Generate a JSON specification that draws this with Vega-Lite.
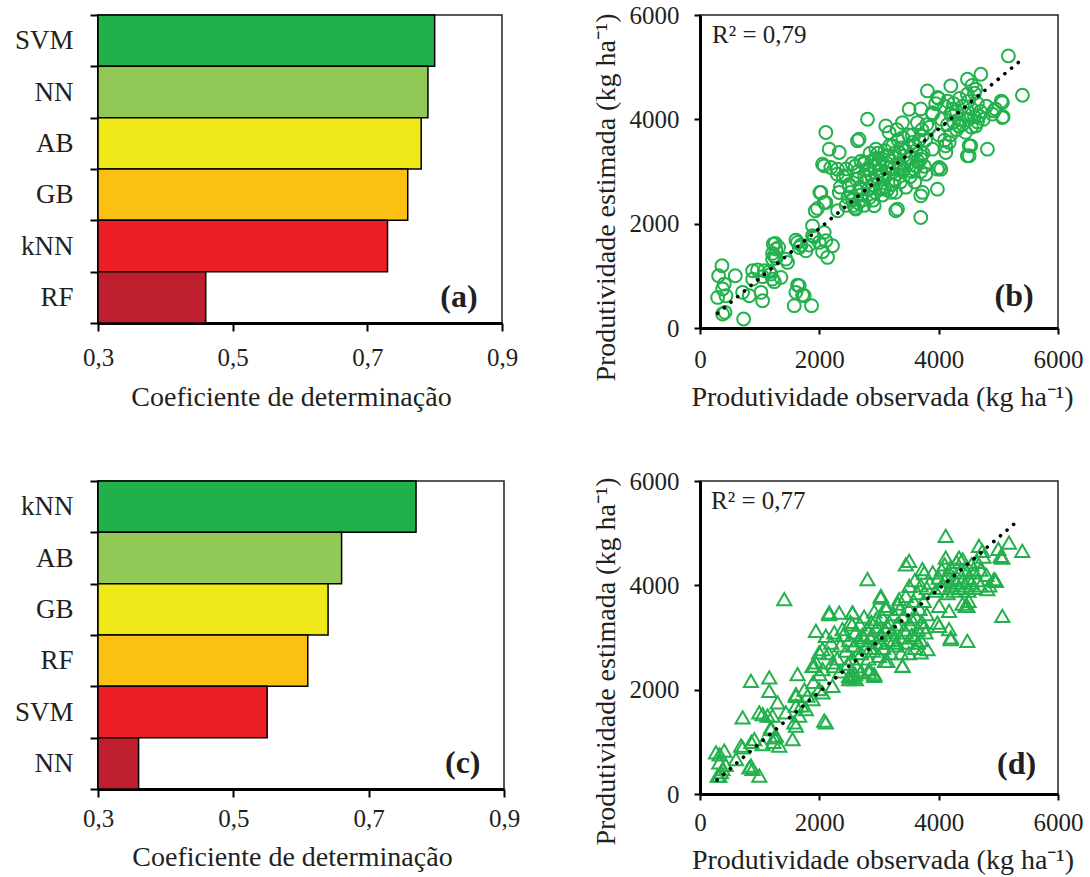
{
  "$schema": "https://vega.github.io/schema/vega-lite/v6.json",
  "background": "white",
  "padding": {"left": 13, "top": 0, "right": 5, "bottom": 5},
  "config": {
    "font": "Liberation Serif",
    "view": {"stroke": "#231f20", "strokeWidth": 1.5},
    "axis": {
      "domainColor": "black", "domainWidth": 3, "tickColor": "black", "tickWidth": 2,
      "labelColor": "#231f20", "titleColor": "#231f20",
      "labelFont": "Liberation Serif", "titleFont": "Liberation Serif",
      "titleFontWeight": "normal", "grid": false, "labelFontSize": 25, "titleFontSize": 28,
      "labelFlush": false, "labelOverlap": false, "zindex": 1
    }
  },
  "datasets": {
    "bars_a": [
      {"model": "SVM", "r2": 0.80, "rank": 1},
      {"model": "NN", "r2": 0.79, "rank": 2},
      {"model": "AB", "r2": 0.78, "rank": 3},
      {"model": "GB", "r2": 0.76, "rank": 4},
      {"model": "kNN", "r2": 0.73, "rank": 5},
      {"model": "RF", "r2": 0.46, "rank": 6}
    ],
    "bars_c": [
      {"model": "kNN", "r2": 0.77, "rank": 1},
      {"model": "AB", "r2": 0.66, "rank": 2},
      {"model": "GB", "r2": 0.64, "rank": 3},
      {"model": "RF", "r2": 0.61, "rank": 4},
      {"model": "SVM", "r2": 0.55, "rank": 5},
      {"model": "NN", "r2": 0.36, "rank": 6}
    ],
    "trend_b": [{"obs": 295, "est": 281}, {"obs": 5397, "est": 5150}],
    "trend_d": [{"obs": 285, "est": 268}, {"obs": 5323, "est": 5234}],
    "obs_b": [
      {"obs":368,"est":1193},{"obs":312,"est":1002},{"obs":591,"est":1002},{"obs":407,"est":842},{"obs":379,"est":747},{"obs":296,"est":587},{"obs":435,"est":619},{"obs":379,"est":268},{"obs":419,"est":300},{"obs":731,"est":172},{"obs":714,"est":683},{"obs":826,"est":619},{"obs":882,"est":1098},{"obs":882,"est":938},{"obs":965,"est":1111},{"obs":1022,"est":683},{"obs":1049,"est":523},{"obs":1049,"est":984},{"obs":1077,"est":1098},{"obs":1161,"est":1080},{"obs":1188,"est":1034},{"obs":1216,"est":938},{"obs":1245,"est":888},{"obs":1356,"est":970},{"obs":1228,"est":1608},{"obs":1261,"est":1622},{"obs":1272,"est":1512},{"obs":1317,"est":1544},{"obs":1244,"est":1385},{"obs":1216,"est":1431},{"obs":1273,"est":1335},{"obs":1216,"est":1321},{"obs":1439,"est":1321},{"obs":1467,"est":1257},{"obs":1608,"est":1685},{"obs":1635,"est":1640},{"obs":1663,"est":1544},{"obs":1692,"est":1589},{"obs":1775,"est":1480},{"obs":1831,"est":1589},{"obs":1886,"est":1768},{"obs":1915,"est":1750},{"obs":1997,"est":1640},{"obs":2081,"est":1832},{"obs":2109,"est":1672},{"obs":2221,"est":1576},{"obs":2137,"est":1353},{"obs":2054,"est":1463},{"obs":1663,"est":811},{"obs":1635,"est":823},{"obs":1607,"est":683},{"obs":1747,"est":619},{"obs":1719,"est":632},{"obs":1579,"est":428},{"obs":1870,"est":428},{"obs":1886,"est":1959},{"obs":1970,"est":2292},
      {"obs":1931,"est":2247},{"obs":2009,"est":2598},{"obs":2109,"est":2406},{"obs":2109,"est":3747},{"obs":2165,"est":3428},{"obs":2081,"est":3109},{"obs":2193,"est":3077},{"obs":2333,"est":3364},{"obs":2305,"est":3045},{"obs":2333,"est":2598},{"obs":2305,"est":2247},{"obs":2667,"est":3619},{"obs":2807,"est":4002},{"obs":2444,"est":2917},{"obs":2500,"est":2726},{"obs":2556,"est":2470},{"obs":2611,"est":2279},{"obs":2695,"est":2662},{"obs":2751,"est":3172},{"obs":2835,"est":3045},{"obs":2891,"est":2853},{"obs":2919,"est":3236},{"obs":2947,"est":3428},{"obs":3030,"est":3013},{"obs":3058,"est":2662},{"obs":2919,"est":2343},{"obs":3281,"est":2247},{"obs":3114,"est":3874},{"obs":3170,"est":3747},{"obs":3226,"est":3492},{"obs":3337,"est":3364},{"obs":3393,"est":3938},{"obs":3421,"est":3045},{"obs":3505,"est":4193},{"obs":3560,"est":3556},{"obs":3616,"est":3109},{"obs":3700,"est":3236},{"obs":3700,"est":2534},{"obs":3700,"est":2119},{"obs":3784,"est":2949},{"obs":3812,"est":4545},{"obs":3979,"est":3045},{"obs":3979,"est":2662},{"obs":3895,"est":3428},{"obs":2054,"est":3141},{"obs":2027,"est":2599},{"obs":2082,"est":2407},{"obs":2640,"est":3589},{"obs":4037,"est":3045},{"obs":3310,"est":2279},{"obs":3729,"est":2599},
      {"obs":2400,"est":2900},{"obs":2450,"est":3050},{"obs":2500,"est":2750},{"obs":2520,"est":2600},{"obs":2560,"est":2450},{"obs":2580,"est":2350},{"obs":2600,"est":2300},{"obs":2620,"est":2850},{"obs":2650,"est":3000},{"obs":2680,"est":2700},{"obs":2700,"est":2550},{"obs":2720,"est":2450},{"obs":2750,"est":3150},{"obs":2760,"est":2900},{"obs":2780,"est":2800},{"obs":2800,"est":3050},{"obs":2820,"est":2650},{"obs":2840,"est":2500},{"obs":2860,"est":2950},{"obs":2880,"est":3200},{"obs":2900,"est":2750},{"obs":2920,"est":3100},{"obs":2940,"est":2600},{"obs":2960,"est":2900},{"obs":2980,"est":3350},{"obs":3000,"est":3000},{"obs":3020,"est":2700},{"obs":3040,"est":3250},{"obs":3060,"est":2550},{"obs":3080,"est":2850},{"obs":3100,"est":3400},{"obs":3120,"est":3100},{"obs":3140,"est":2650},{"obs":3160,"est":2950},{"obs":3180,"est":3500},{"obs":3200,"est":3200},{"obs":3220,"est":2750},{"obs":3240,"est":3050},{"obs":3260,"est":3350},{"obs":3280,"est":2600},{"obs":3300,"est":2950},{"obs":3320,"est":3600},{"obs":3340,"est":3150},{"obs":3360,"est":2800},{"obs":3380,"est":3450},{"obs":3400,"est":3000},{"obs":3420,"est":3300},{"obs":3450,"est":2700},{"obs":3480,"est":3150},{"obs":3500,"est":3500},{"obs":3520,"est":2900},{"obs":3540,"est":3250},{"obs":3560,"est":3700},{"obs":3580,"est":3050},{"obs":3600,"est":2800},{"obs":3620,"est":3400},{"obs":3650,"est":3200},{"obs":3670,"est":3600},{"obs":3700,"est":3000},{"obs":3720,"est":3800},{"obs":3740,"est":3350},{"obs":3760,"est":3100},{"obs":3780,"est":3600},{"obs":3800,"est":3900},{"obs":2550,"est":3150},{"obs":2650,"est":2400},{"obs":2850,"est":3350},{"obs":2950,"est":3250},{"obs":3050,"est":2950},{"obs":3150,"est":3300},{"obs":3250,"est":2850},{"obs":3350,"est":3100},{"obs":3450,"est":3400},{"obs":3550,"est":3000},{"obs":2480,"est":2500},{"obs":2700,"est":3200},{"obs":2900,"est":2450},{"obs":3100,"est":2700},{"obs":3300,"est":3800},{"obs":3500,"est":3700},{"obs":2300,"est":2950},{"obs":2350,"est":2700},{"obs":2600,"est":3100},{"obs":2750,"est":2350},{"obs":3000,"est":3150},{"obs":3200,"est":2600},{"obs":3400,"est":3650},{"obs":3600,"est":3500},{"obs":3700,"est":3300},{"obs":2450,"est":2350},
      {"obs":3850,"est":3850},{"obs":3900,"est":4100},{"obs":3950,"est":4300},{"obs":4000,"est":3700},{"obs":4000,"est":4400},{"obs":4050,"est":4000},{"obs":4100,"est":4250},{"obs":4100,"est":3600},{"obs":4150,"est":4350},{"obs":4150,"est":3900},{"obs":4200,"est":4100},{"obs":4200,"est":3700},{"obs":4250,"est":4300},{"obs":4250,"est":3950},{"obs":4300,"est":4150},{"obs":4300,"est":3800},{"obs":4350,"est":4400},{"obs":4350,"est":4000},{"obs":4400,"est":3900},{"obs":4400,"est":4250},{"obs":4450,"est":4100},{"obs":4450,"est":3750},{"obs":4500,"est":4350},{"obs":4500,"est":4000},{"obs":4550,"est":4200},{"obs":4550,"est":3850},{"obs":4600,"est":4500},{"obs":4600,"est":4050},{"obs":4650,"est":4300},{"obs":4650,"est":3950},{"obs":4700,"est":4150},{"obs":4750,"est":4000},{"obs":4800,"est":4250},{"obs":4900,"est":4100},{"obs":4950,"est":4200},{"obs":5050,"est":4350},{"obs":5080,"est":4050},{"obs":5169,"est":5216},{"obs":5404,"est":4462},{"obs":4707,"est":4864},{"obs":4482,"est":4768},{"obs":4204,"est":4642},{"obs":4511,"est":3301},{"obs":4511,"est":3493},{"obs":4817,"est":3428},{"obs":4008,"est":3077},{"obs":4120,"est":3365},{"obs":4176,"est":3556},{"obs":3700,"est":4200},{"obs":3644,"est":3938},{"obs":3728,"est":3683},{"obs":3895,"est":4130},{"obs":4560,"est":4650},{"obs":4620,"est":4580},{"obs":4480,"est":4480},{"obs":3980,"est":4420},{"obs":5067,"est":4321},{"obs":5067,"est":4034},{"obs":4927,"est":4162},{"obs":4537,"est":3492},{"obs":4481,"est":3300},{"obs":4118,"est":3492},{"obs":4341,"est":3874},{"obs":4620,"est":3874},{"obs":4230,"est":4193},{"obs":4676,"est":4066}
    ],
    "obs_d": [
      {"obs":268,"est":798},{"obs":407,"est":830},{"obs":324,"est":606},{"obs":379,"est":479},{"obs":296,"est":351},{"obs":350,"est":420},{"obs":430,"est":560},{"obs":603,"est":670},{"obs":714,"est":894},{"obs":714,"est":1468},{"obs":854,"est":2170},{"obs":854,"est":543},{"obs":880,"est":480},{"obs":993,"est":351},{"obs":910,"est":1053},{"obs":860,"est":1000},{"obs":1049,"est":957},{"obs":1049,"est":1532},{"obs":1161,"est":2234},{"obs":1161,"est":1979},{"obs":1216,"est":1500},{"obs":1188,"est":1245},{"obs":1272,"est":1117},{"obs":1230,"est":1000},{"obs":1328,"est":926},{"obs":1300,"est":1755},{"obs":1412,"est":3734},{"obs":1439,"est":1564},{"obs":1551,"est":1053},{"obs":1607,"est":1309},{"obs":1635,"est":2298},{"obs":1607,"est":1883},{"obs":1663,"est":1500},{"obs":1775,"est":1628},{"obs":1886,"est":1819},{"obs":1886,"est":2457},{"obs":1997,"est":2713},{"obs":2053,"est":1947},{"obs":2109,"est":1372},{"obs":2109,"est":3032},{"obs":2165,"est":3447},{"obs":2221,"est":2521},{"obs":2221,"est":2074},{"obs":2333,"est":3479},{"obs":2388,"est":3160},{"obs":2500,"est":2266},{"obs":2556,"est":3479},{"obs":2611,"est":2202},{"obs":2807,"est":4117},{"obs":2835,"est":2330},{"obs":2919,"est":2266},{"obs":3030,"est":3766},{"obs":3142,"est":2553},{"obs":3393,"est":2457},{"obs":3505,"est":4468},{"obs":3700,"est":2713},{"obs":3979,"est":3287},{"obs":4007,"est":3606},{"obs":4174,"est":3511},{"obs":4174,"est":3160},{"obs":4202,"est":2968},{"obs":4481,"est":2936},{"obs":4453,"est":3606},{"obs":4118,"est":4947},{"obs":5067,"est":3415},{"obs":5401,"est":4660},{"obs":5178,"est":4819},{"obs":5067,"est":4532},{"obs":4927,"est":4117},{"obs":4816,"est":3926},{"obs":4676,"est":4755},{"obs":4732,"est":4660},{"obs":4341,"est":4532},{"obs":4118,"est":4532},{"obs":3728,"est":4309},{"obs":5042,"est":4565},{"obs":4958,"est":4087},{"obs":4482,"est":3608},
      {"obs":1132,"est":1501},{"obs":1608,"est":1915},{"obs":1189,"est":1277},{"obs":1245,"est":1086},{"obs":687,"est":927},{"obs":826,"est":511},{"obs":1580,"est":1373},{"obs":1608,"est":1693},{"obs":1802,"est":1884},{"obs":1998,"est":2011},{"obs":2082,"est":1406},{"obs":1914,"est":2459},{"obs":1700,"est":1700},{"obs":1750,"est":2000},{"obs":1900,"est":2150},{"obs":2000,"est":2300},{"obs":993,"est":1565},{"obs":323,"est":352},{"obs":330,"est":760},
      {"obs":2150,"est":2700},{"obs":2200,"est":2900},{"obs":2250,"est":3100},{"obs":2300,"est":2600},{"obs":2350,"est":2850},{"obs":2400,"est":3050},{"obs":2250,"est":2450},{"obs":2350,"est":2350},{"obs":2166,"est":3480},{"obs":2556,"est":3480},{"obs":3032,"est":3799},{"obs":3115,"est":3608},{"obs":3338,"est":3735},{"obs":3506,"est":3991},{"obs":3757,"est":4245},{"obs":3450,"est":4404},{"obs":1943,"est":3129},{"obs":2054,"est":2777},{"obs":1943,"est":2522},{"obs":2054,"est":2394},{"obs":2556,"est":2235},{"obs":2920,"est":2298},{"obs":2836,"est":2394},{"obs":3394,"est":2459},{"obs":4008,"est":3225},{"obs":4204,"est":3001},{"obs":3812,"est":2777},{"obs":3600,"est":4100},{"obs":3700,"est":4000},{"obs":3800,"est":3950},{"obs":3650,"est":3850},
      {"obs":2450,"est":2750},{"obs":2480,"est":2500},{"obs":2500,"est":2950},{"obs":2520,"est":3300},{"obs":2550,"est":2600},{"obs":2580,"est":2850},{"obs":2600,"est":3100},{"obs":2620,"est":2450},{"obs":2650,"est":2950},{"obs":2680,"est":3250},{"obs":2700,"est":2700},{"obs":2720,"est":3050},{"obs":2750,"est":3400},{"obs":2780,"est":2800},{"obs":2800,"est":3150},{"obs":2820,"est":2600},{"obs":2850,"est":3000},{"obs":2870,"est":3300},{"obs":2900,"est":2750},{"obs":2920,"est":3500},{"obs":2950,"est":2900},{"obs":2970,"est":3200},{"obs":3000,"est":2650},{"obs":3020,"est":3050},{"obs":3050,"est":3400},{"obs":3070,"est":2800},{"obs":3100,"est":3150},{"obs":3120,"est":3550},{"obs":3150,"est":2950},{"obs":3170,"est":3300},{"obs":3200,"est":2700},{"obs":3220,"est":3100},{"obs":3250,"est":3450},{"obs":3270,"est":2850},{"obs":3300,"est":3250},{"obs":3320,"est":3650},{"obs":3350,"est":3000},{"obs":3370,"est":2700},{"obs":3400,"est":3400},{"obs":3420,"est":3150},{"obs":3450,"est":3800},{"obs":3470,"est":2900},{"obs":3500,"est":3550},{"obs":3520,"est":3250},{"obs":3550,"est":3050},{"obs":3580,"est":3700},{"obs":3600,"est":2800},{"obs":3620,"est":3400},{"obs":3650,"est":3150},{"obs":3680,"est":3550},{"obs":3700,"est":2950},{"obs":3720,"est":3300},{"obs":3750,"est":3700},{"obs":3780,"est":3100},{"obs":3800,"est":3450},{"obs":2550,"est":3250},{"obs":2650,"est":2700},{"obs":2750,"est":3000},{"obs":2850,"est":2800},{"obs":2950,"est":3350},{"obs":3050,"est":2900},{"obs":3150,"est":3200},{"obs":3250,"est":2950},{"obs":3350,"est":3550},{"obs":3450,"est":3100},{"obs":3550,"est":3350},{"obs":3650,"est":2900},{"obs":3750,"est":3200},{"obs":2900,"est":3050},{"obs":3100,"est":2550},{"obs":3300,"est":2900},{"obs":3500,"est":2700},{"obs":3600,"est":3000},{"obs":2600,"est":2300},{"obs":2700,"est":2350},{"obs":2500,"est":2200},
      {"obs":3850,"est":4050},{"obs":3900,"est":4250},{"obs":3950,"est":3900},{"obs":4000,"est":4150},{"obs":4050,"est":4300},{"obs":4050,"est":3950},{"obs":4100,"est":4100},{"obs":4100,"est":4400},{"obs":4150,"est":3850},{"obs":4150,"est":4200},{"obs":4200,"est":4000},{"obs":4200,"est":4350},{"obs":4250,"est":4150},{"obs":4250,"est":3900},{"obs":4300,"est":4450},{"obs":4300,"est":4050},{"obs":4350,"est":4250},{"obs":4350,"est":3950},{"obs":4400,"est":4100},{"obs":4400,"est":4500},{"obs":4450,"est":4000},{"obs":4450,"est":4300},{"obs":4500,"est":4150},{"obs":4500,"est":3900},{"obs":4550,"est":4400},{"obs":4550,"est":4050},{"obs":4600,"est":4250},{"obs":4600,"est":3950},{"obs":4650,"est":4100},{"obs":4650,"est":4450},{"obs":4700,"est":4300},{"obs":4700,"est":4000},{"obs":4750,"est":4550},{"obs":4800,"est":4200},{"obs":4850,"est":4000},{"obs":4950,"est":4100},{"obs":5000,"est":4700},{"obs":5050,"est":4550},{"obs":4500,"est":3700},{"obs":4400,"est":3650}
    ]
  },
  "columns": 2,
  "spacing": {"row": 153, "column": 196},
  "bounds": "flush",
  "concat": [
    {
      "width": 404, "height": 308,
      "layer": [
        {
          "data": {"name": "bars_a"},
          "mark": {"type": "bar", "stroke": "black", "strokeWidth": 1.5},
          "encoding": {
            "y": {"field": "model", "type": "nominal", "sort": ["SVM","NN","AB","GB","kNN","RF"],
              "scale": {"paddingInner": 0, "paddingOuter": 0},
              "axis": {"title": null, "tickBand": "extent", "tickSize": 8, "labelPadding": 17, "labelFontSize": 27}},
            "x": {"field": "r2", "type": "quantitative", "scale": {"domain": [0.3, 0.9], "zero": false, "nice": false},
              "axis": {"values": [0.3, 0.5, 0.7, 0.9], "labelExpr": "replace(format(datum.value, '.1f'), '.', ',')",
                "title": "Coeficiente de determinação", "tickSize": 8, "labelPadding": 34, "labelBaseline": "alphabetic",
                "titleX": 193, "titleY": 82, "titleBaseline": "alphabetic", "titleAlign": "center"}},
            "x2": {"datum": 0.3},
            "color": {"field": "rank", "type": "ordinal",
              "scale": {"domain": [1,2,3,4,5,6], "range": ["#21b14b","#92c856","#f0e919","#fbc112","#ec1f26","#be1e2d"]},
              "legend": null}
          }
        },
        {
          "data": {"values": [{}]},
          "mark": {"type": "text", "fontSize": 32, "fontWeight": "bold", "font": "Liberation Serif", "color": "#231f20", "baseline": "middle", "align": "center"},
          "encoding": {"x": {"datum": 0.836}, "y": {"datum": "RF"}, "text": {"value": "(a)"}}
        }
      ]
    },
    {
      "width": 358, "height": 313,
      "layer": [
        {
          "data": {"name": "obs_b"},
          "mark": {"type": "point", "shape": "circle", "filled": false, "stroke": "#22b14c", "strokeWidth": 2, "size": 165, "opacity": 1},
          "encoding": {
            "x": {"field": "obs", "type": "quantitative", "scale": {"domain": [0, 6000], "nice": false},
              "axis": {"values": [0,2000,4000,6000], "format": "d", "title": "Produtividade observada (kg ha⁻¹)",
                "tickSize": 6, "labelPadding": 33, "labelBaseline": "alphabetic",
                "titleX": 182, "titleY": 77, "titleBaseline": "alphabetic", "titleAlign": "center"}},
            "y": {"field": "est", "type": "quantitative", "scale": {"domain": [0, 6000], "nice": false},
              "axis": {"values": [0,2000,4000,6000], "format": "d", "title": "Produtividade estimada (kg ha⁻¹)",
                "tickSize": 6, "labelPadding": 15,
                "titleX": -86, "titleY": 182, "titleAngle": -90, "titleBaseline": "alphabetic", "titleAlign": "center"}}
          }
        },
        {
          "data": {"name": "trend_b"},
          "mark": {"type": "line", "color": "black", "strokeWidth": 3.6, "strokeDash": [0.1, 8.6], "strokeCap": "round"},
          "encoding": {"x": {"field": "obs", "type": "quantitative"}, "y": {"field": "est", "type": "quantitative"}}
        },
        {
          "data": {"values": [{}]},
          "mark": {"type": "text", "fontSize": 25, "font": "Liberation Serif", "color": "#231f20", "baseline": "middle", "align": "left"},
          "encoding": {"x": {"datum": 201}, "y": {"datum": 5609}, "text": {"value": "R² = 0,79"}}
        },
        {
          "data": {"values": [{}]},
          "mark": {"type": "text", "fontSize": 32, "fontWeight": "bold", "font": "Liberation Serif", "color": "#231f20", "baseline": "middle", "align": "center"},
          "encoding": {"x": {"datum": 5265}, "y": {"datum": 620}, "text": {"value": "(b)"}}
        }
      ]
    },
    {
      "width": 406, "height": 308,
      "layer": [
        {
          "data": {"name": "bars_c"},
          "mark": {"type": "bar", "stroke": "black", "strokeWidth": 1.5},
          "encoding": {
            "y": {"field": "model", "type": "nominal", "sort": ["kNN","AB","GB","RF","SVM","NN"],
              "scale": {"paddingInner": 0, "paddingOuter": 0},
              "axis": {"title": null, "tickBand": "extent", "tickSize": 8, "labelPadding": 17, "labelFontSize": 27}},
            "x": {"field": "r2", "type": "quantitative", "scale": {"domain": [0.3, 0.9], "zero": false, "nice": false},
              "axis": {"values": [0.3, 0.5, 0.7, 0.9], "labelExpr": "replace(format(datum.value, '.1f'), '.', ',')",
                "title": "Coeficiente de determinação", "tickSize": 8, "labelPadding": 29, "labelBaseline": "alphabetic",
                "titleX": 194, "titleY": 76, "titleBaseline": "alphabetic", "titleAlign": "center"}},
            "x2": {"datum": 0.3},
            "color": {"field": "rank", "type": "ordinal",
              "scale": {"domain": [1,2,3,4,5,6], "range": ["#21b14b","#92c856","#f0e919","#fbc112","#ec1f26","#be1e2d"]},
              "legend": null}
          }
        },
        {
          "data": {"values": [{}]},
          "mark": {"type": "text", "fontSize": 32, "fontWeight": "bold", "font": "Liberation Serif", "color": "#231f20", "baseline": "middle", "align": "center"},
          "encoding": {"x": {"datum": 0.839}, "y": {"datum": "NN"}, "text": {"value": "(c)"}}
        }
      ]
    },
    {
      "width": 358, "height": 313,
      "layer": [
        {
          "data": {"name": "obs_d"},
          "mark": {"type": "point", "shape": "triangle-up", "filled": false, "stroke": "#22b14c", "strokeWidth": 2, "size": 200, "opacity": 1},
          "encoding": {
            "x": {"field": "obs", "type": "quantitative", "scale": {"domain": [0, 6000], "nice": false},
              "axis": {"values": [0,2000,4000,6000], "format": "d", "title": "Produtividade observada (kg ha⁻¹)",
                "tickSize": 6, "labelPadding": 30, "labelBaseline": "alphabetic",
                "titleX": 182.5, "titleY": 74, "titleBaseline": "alphabetic", "titleAlign": "center"}},
            "y": {"field": "est", "type": "quantitative", "scale": {"domain": [0, 6000], "nice": false},
              "axis": {"values": [0,2000,4000,6000], "format": "d", "title": "Produtividade estimada (kg ha⁻¹)",
                "tickSize": 6, "labelPadding": 15,
                "titleX": -86, "titleY": 180, "titleAngle": -90, "titleBaseline": "alphabetic", "titleAlign": "center"}}
          }
        },
        {
          "data": {"name": "trend_d"},
          "mark": {"type": "line", "color": "black", "strokeWidth": 3.6, "strokeDash": [0.1, 8.6], "strokeCap": "round"},
          "encoding": {"x": {"field": "obs", "type": "quantitative"}, "y": {"field": "est", "type": "quantitative"}}
        },
        {
          "data": {"values": [{}]},
          "mark": {"type": "text", "fontSize": 25, "font": "Liberation Serif", "color": "#231f20", "baseline": "middle", "align": "left"},
          "encoding": {"x": {"datum": 184}, "y": {"datum": 5611}, "text": {"value": "R² = 0,77"}}
        },
        {
          "data": {"values": [{}]},
          "mark": {"type": "text", "fontSize": 32, "fontWeight": "bold", "font": "Liberation Serif", "color": "#231f20", "baseline": "middle", "align": "center"},
          "encoding": {"x": {"datum": 5306}, "y": {"datum": 575}, "text": {"value": "(d)"}}
        }
      ]
    }
  ]
}
